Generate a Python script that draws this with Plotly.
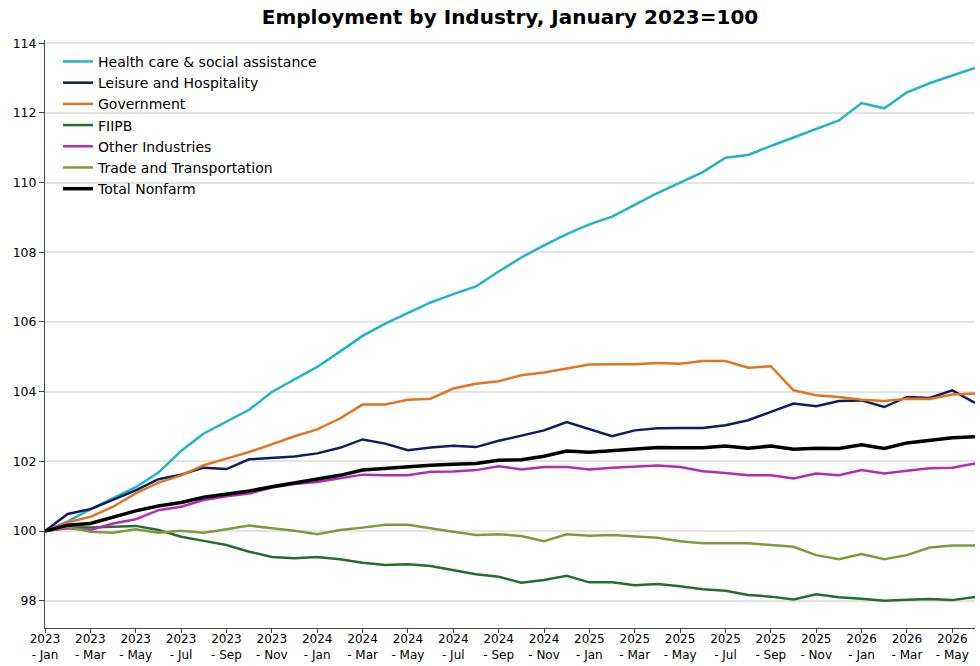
import plotly.graph_objects as go

months = [f"{y} - {m}" for y in (2023, 2024, 2025, 2026)
          for m in ["Jan", "Feb", "Mar", "Apr", "May", "Jun", "Jul", "Aug", "Sep", "Oct", "Nov", "Dec"]][:42]

health = [100.0, 100.28, 100.62, 100.93, 101.26, 101.68, 102.3, 102.8, 103.15, 103.48, 103.99, 104.36,
          104.71, 105.15, 105.6, 105.95, 106.25, 106.56, 106.8, 107.02, 107.45, 107.85, 108.2, 108.52,
          108.8, 109.02, 109.36, 109.7, 110.0, 110.3, 110.71, 110.79, 111.05, 111.3, 111.55, 111.78,
          112.28, 112.13, 112.59, 112.85, 113.07, 113.29]
leisure = [100.0, 100.49, 100.63, 100.89, 101.17, 101.49, 101.62, 101.82, 101.78, 102.06, 102.09, 102.14,
           102.23, 102.39, 102.63, 102.51, 102.32, 102.4, 102.45, 102.41, 102.59, 102.74, 102.89, 103.13,
           102.92, 102.72, 102.89, 102.95, 102.96, 102.96, 103.04, 103.18, 103.42, 103.66, 103.58, 103.73,
           103.75, 103.56, 103.85, 103.82, 104.04, 103.68]
government = [100.0, 100.25, 100.41, 100.7, 101.08, 101.39, 101.6, 101.89, 102.08, 102.27, 102.49, 102.72,
              102.92, 103.23, 103.63, 103.63, 103.77, 103.8, 104.09, 104.23, 104.3, 104.47, 104.55, 104.66,
              104.78, 104.79, 104.79, 104.82, 104.8, 104.88, 104.88, 104.69, 104.73, 104.04, 103.9, 103.85,
              103.77, 103.73, 103.8, 103.79, 103.92, 103.95]
fiipb = [100.0, 100.1, 100.1, 100.12, 100.15, 100.03, 99.84, 99.72, 99.6, 99.41, 99.26, 99.22,
         99.26, 99.19, 99.09, 99.03, 99.05, 99.0, 98.88, 98.76, 98.69, 98.52, 98.6, 98.72,
         98.53, 98.53, 98.45, 98.48, 98.42, 98.33, 98.29, 98.17, 98.12, 98.04, 98.19, 98.1,
         98.06, 98.0, 98.03, 98.05, 98.02, 98.11]
other = [100.0, 100.08, 100.03, 100.22, 100.34, 100.6, 100.7, 100.89, 101.0, 101.08, 101.25, 101.35,
         101.41, 101.51, 101.62, 101.6, 101.6, 101.7, 101.71, 101.75, 101.86, 101.77, 101.84, 101.84,
         101.77, 101.82, 101.86, 101.88, 101.84, 101.72, 101.67, 101.6, 101.6, 101.51, 101.65, 101.6,
         101.75, 101.65, 101.73, 101.8, 101.82, 101.94]
trade = [100.0, 100.12, 99.98, 99.95, 100.05, 99.95, 100.01, 99.95, 100.05, 100.16, 100.08, 100.01,
         99.91, 100.03, 100.1, 100.18, 100.18, 100.07, 99.98, 99.89, 99.91, 99.86, 99.71, 99.91,
         99.87, 99.89, 99.84, 99.81, 99.71, 99.65, 99.65, 99.65, 99.6, 99.55, 99.31, 99.19,
         99.34, 99.19, 99.31, 99.53, 99.59, 99.59]
total = [100.0, 100.17, 100.22, 100.41, 100.58, 100.72, 100.82, 100.97, 101.06, 101.15, 101.27, 101.38,
         101.48, 101.6, 101.75, 101.8, 101.84, 101.89, 101.92, 101.94, 102.03, 102.05, 102.15, 102.3,
         102.26, 102.3, 102.35, 102.4, 102.39, 102.39, 102.44, 102.38, 102.44, 102.35, 102.38, 102.37,
         102.48, 102.37, 102.53, 102.61, 102.68, 102.71]

series = [
    ("Health care & social assistance", health, "#1fb4c6", 2.5),
    ("Leisure and Hospitality", leisure, "#0f1c60", 2.5),
    ("Government", government, "#e2741f", 2.5),
    ("FIIPB", fiipb, "#246e2b", 2.5),
    ("Other Industries", other, "#b52bb8", 2.5),
    ("Trade and Transportation", trade, "#7c9c3b", 2.5),
    ("Total Nonfarm", total, "#000000", 3.5),
]

tick_vals = months[::2]
tick_text = [m.replace(" - ", "<br>- ") for m in tick_vals]

fig = go.Figure()
for name, vals, color, w in series:
    fig.add_trace(go.Scatter(x=months, y=vals, mode="lines", name=name,
                             line=dict(color=color, width=w)))

fig.update_layout(
    width=980, height=666,
    margin=dict(l=45, r=5, t=40, b=38, autoexpand=False),
    paper_bgcolor="white", plot_bgcolor="white",
    font=dict(family="DejaVu Sans", size=12, color="#000"),
    title=dict(text="<b>Employment by Industry, January 2023=100</b>",
               x=0.5, xref="paper", xanchor="center", y=0.975, yanchor="middle",
               font=dict(family="DejaVu Sans", size=20, color="#000")),
    legend=dict(x=0.014, y=0.99, xanchor="left", yanchor="top",
                bgcolor="rgba(255,255,255,0)", font=dict(size=14, color="#000"),
                itemwidth=30, tracegroupgap=0),
    showlegend=True,
)
fig.update_xaxes(type="category", range=[0, 41], tickmode="array",
                 tickvals=tick_vals, ticktext=tick_text, showgrid=False,
                 showline=True, linecolor="#444", linewidth=1,
                 ticks="outside", ticklen=4, tickcolor="#444", automargin=False,
                 ticklabelstandoff=-4,
                 tickfont=dict(size=12), zeroline=False)
fig.update_yaxes(range=[97.22, 114.09], tickmode="array",
                 tickvals=[98, 100, 102, 104, 106, 108, 110, 112, 114],
                 showgrid=True, gridcolor="#e3e3e3", gridwidth=1.5,
                 showline=True, linecolor="#444", linewidth=1, automargin=False,
                 ticks="outside", ticklen=5, tickcolor="#444",
                 tickfont=dict(size=12.5), zeroline=False)

fig.write_html("out.html")
